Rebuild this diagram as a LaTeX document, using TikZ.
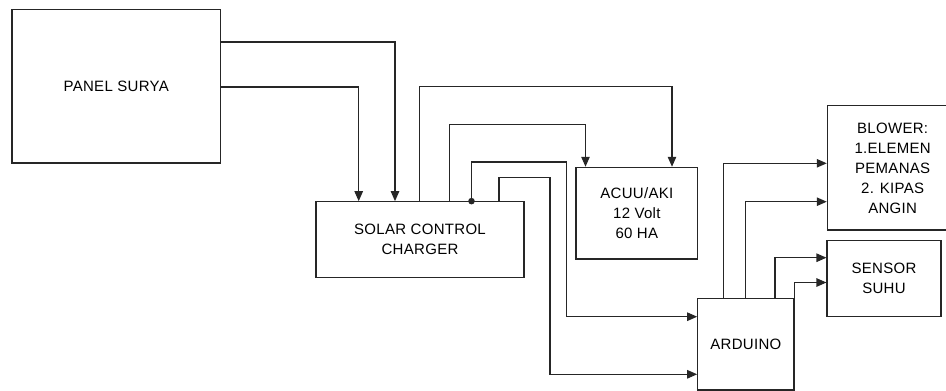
\documentclass[tikz,border=0pt]{standalone}
\usepackage{fontspec}
\setmainfont{Liberation Sans}[LetterSpace=2]
\usetikzlibrary{arrows.meta}
\tikzset{
  blk/.style={draw=black!85, line width=1.1pt, rectangle, inner sep=0pt, align=center,
    font=\fontsize{15}{20}\selectfont},
  wire/.style={draw=black!85, line width=1.1pt},
  arr/.style={wire, -{Triangle[length=10pt,width=8.5pt]}},
}
\begin{document}
\begin{tikzpicture}[x=1pt,y=-1pt]
\useasboundingbox (0,0) rectangle (946,391);
\clip (0,0) rectangle (946,391);
\node[blk, minimum width=208.5pt, minimum height=153.5pt] (panel) at (116.25,86.25) {PANEL SURYA};
\node[blk, minimum width=208pt, minimum height=76pt] (solar) at (420,239.7) {SOLAR CONTROL\\CHARGER};
\node[blk, minimum width=121.7pt, minimum height=91.7pt] (accu) at (636.85,213.15) {ACUU/AKI\\12 Volt\\60 HA};
\node[blk, minimum width=96.3pt, minimum height=91.7pt] (arduino) at (745.85,344.15) {ARDUINO};
\node[blk, minimum width=130.7pt, minimum height=124.3pt] (blower) at (892.65,167.85) {BLOWER:\\1.ELEMEN\\PEMANAS\\2. KIPAS\\ANGIN};
\node[blk, minimum width=114pt, minimum height=76pt] (sensor) at (884,278.7) {SENSOR\\SUHU};

% panel -> solar
\draw[arr] (panel.east |- 0,42) -| (solar.north -| 395,0);
\draw[arr] (panel.east |- 0,87) -| (solar.north -| 358.7,0);
% solar -> accu
\draw[arr] (solar.north -| 419.5,0) -- (419.5,86.7) -| (accu.north -| 672,0);
\draw[arr] (solar.north -| 449.5,0) -- (449.5,124.5) -| (accu.north -| 585.5,0);
% solar -> arduino
\coordinate (jn) at (solar.north -| 471.5,0);
\fill[black!85] (jn) circle (3.3pt);
\draw[arr] (jn) -- (471.5,162) -| (566.7,316.7) -- (arduino.west |- 0,316.7);
\draw[arr] (solar.north -| 499,0) -- (499,177.7) -| (550,374.3) -- (arduino.west |- 0,374.3);
% arduino -> blower / sensor
\draw[arr] (arduino.north -| 723.3,0) |- (blower.west |- 0,163.3);
\draw[arr] (arduino.north -| 745.7,0) |- (blower.west |- 0,201.7);
\draw[arr] (arduino.north -| 775,0) |- (sensor.west |- 0,257.7);
\draw[arr] (arduino.north east) |- (sensor.west |- 0,282.5);
\end{tikzpicture}
\end{document}
